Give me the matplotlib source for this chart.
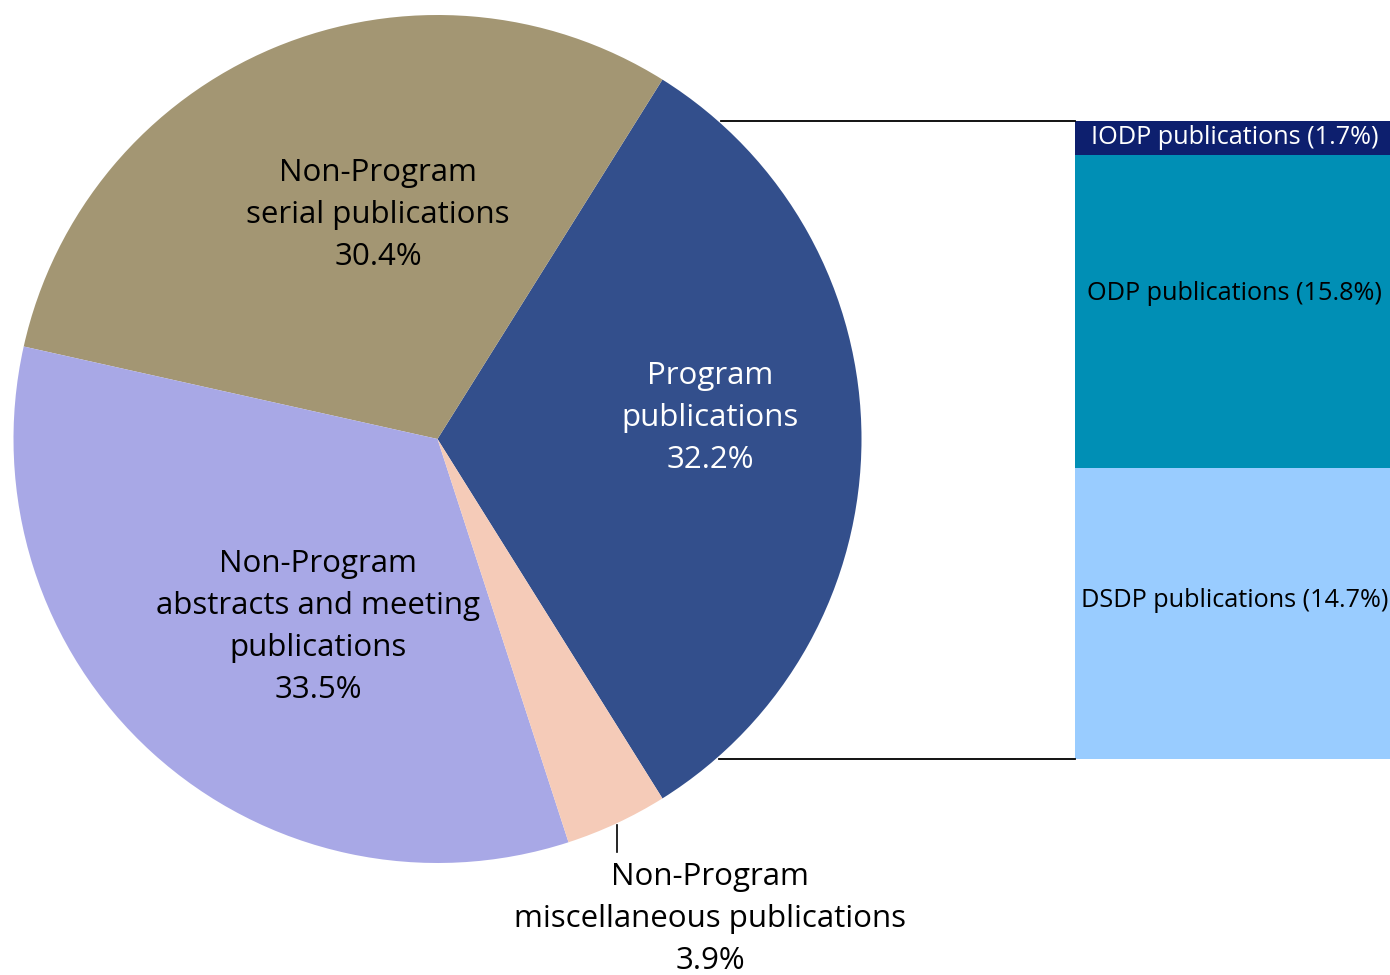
import matplotlib.pyplot as plt
import numpy as np

# pie shares (%)
pie_labels = ['Program\npublications\n32.2%',
              'Non-Program\nserial publications\n30.4%',
              'Non-Program\nabstracts and meeting\npublications\n33.5%',
              '']
pie_values = [32.2, 30.4, 33.5, 3.9]
pie_colors = ['#334f8c', '#a39673', '#a8a8e6', '#f5cbb8']

# breakdown of program publications (bottom -> top)
bar_labels = ['DSDP publications (14.7%)', 'ODP publications (15.8%)', 'IODP publications (1.7%)']
bar_values = [14.7, 15.8, 1.7]
bar_colors = ['#99ccff', '#008fb5', '#0d1f6e']
bar_text_colors = ['black', 'black', 'white']

misc_label = 'Non-Program\nmiscellaneous publications\n3.9%'

plt.rcParams['font.family'] = ['Open Sans', 'DejaVu Sans']

W, H = 1390, 975
fig = plt.figure(figsize=(W / 100, H / 100), dpi=100)
ax = fig.add_axes([0, 0, 1, 1])

cx, cy, r = 437.5, H - 439, 424
start = -pie_values[0] / 100 * 360 / 2
wedges, _ = ax.pie(pie_values, colors=pie_colors, startangle=start, counterclock=True,
                   center=(cx, cy), radius=r, frame=True,
                   wedgeprops=dict(linewidth=0))
ax.set_xlim(0, W)
ax.set_ylim(0, H)
ax.set_aspect('equal')
ax.axis('off')

FS = 22.5
LS = 1.52
# pie labels
lab_pos = [(710, H - 418), (378, H - 215), (318, H - 627)]
lab_col = ['white', 'black', 'black']
for (x, y), t, c in zip(lab_pos, pie_labels[:3], lab_col):
    ax.text(x, y, t, ha='center', va='center', fontsize=FS, color=c, linespacing=LS)

# misc label with leader line
ax.plot([617, 617], [H - 825, H - 852], color='black', lw=1.2)
ax.text(710, H - 919, misc_label, ha='center', va='center', fontsize=FS, linespacing=LS)

# stacked bar
bx, bw = 1075, 315
btop, bbot = H - 121, H - 759
scale = (btop - bbot) / sum(bar_values)
text_shift = [13, 18, 0]
bottom = bbot
for v, c, t, tc, dy in zip(bar_values, bar_colors, bar_labels, bar_text_colors, text_shift):
    ax.bar(bx, v * scale, width=bw, bottom=bottom, color=c, align='edge', linewidth=0)
    ax.text(bx + bw / 2 + 2, bottom + v * scale / 2 + dy, t, ha='center', va='center',
            fontsize=18.2, color=tc)
    bottom += v * scale

# connector lines from pie edge to bar
for y in (btop, bbot):
    x0 = cx + np.sqrt(r ** 2 - (y - cy) ** 2) + 3
    ax.plot([x0, bx], [y, y], color='black', lw=1.3)

fig.savefig('out.png', dpi=100)
